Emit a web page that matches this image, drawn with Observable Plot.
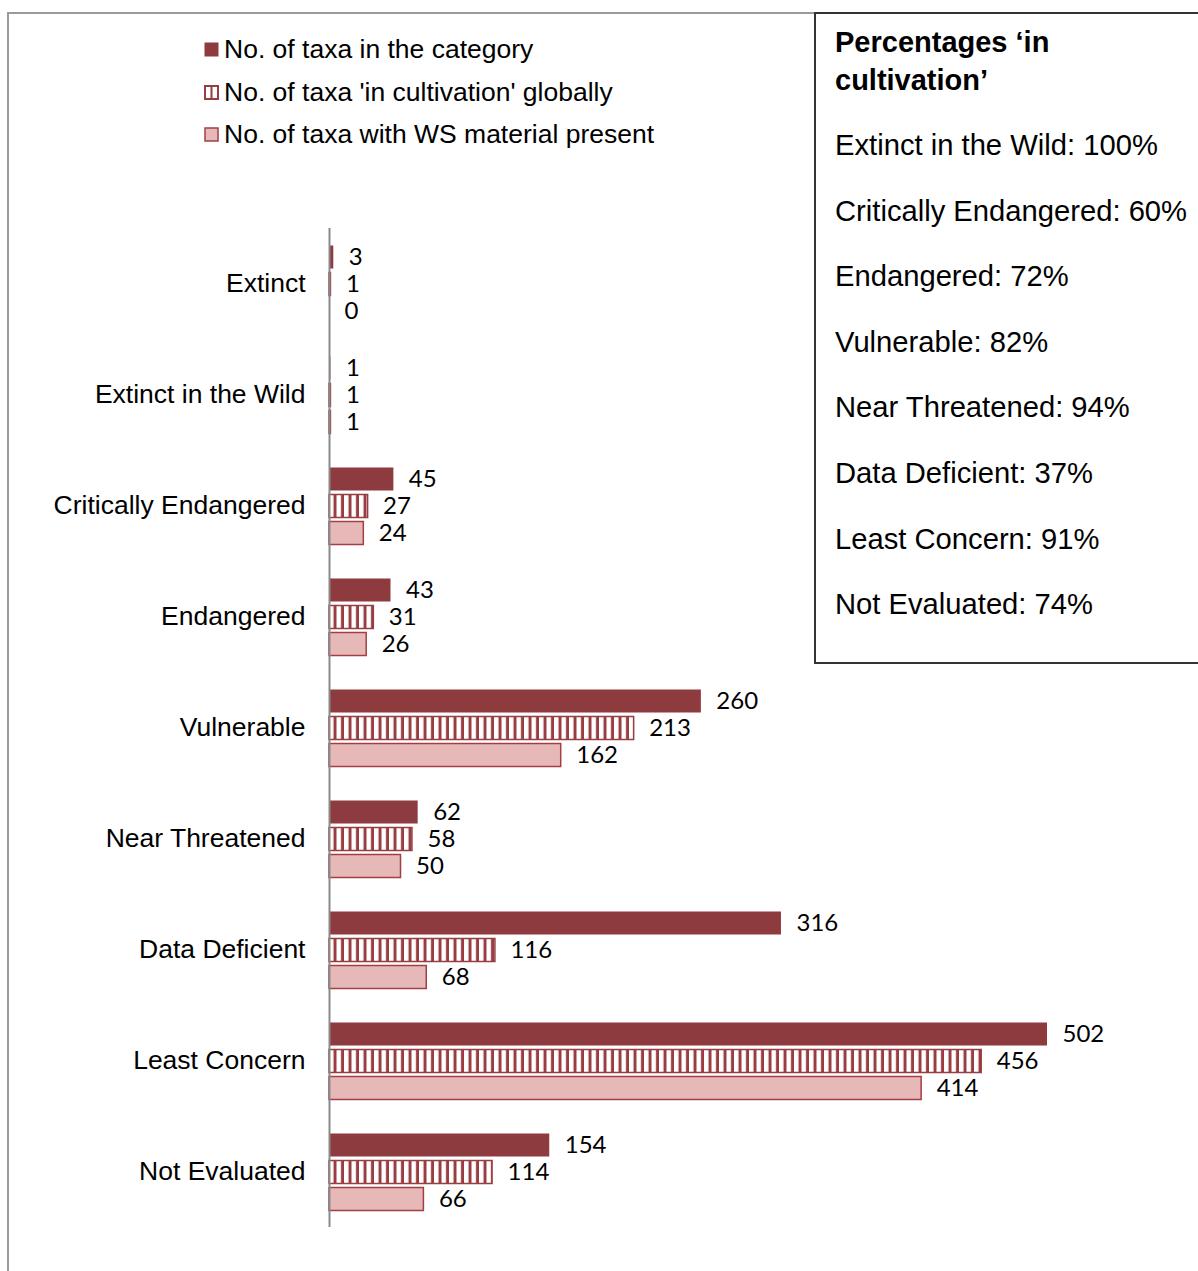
<!DOCTYPE html>
<html>
<head>
<meta charset="utf-8">
<script src="https://cdn.jsdelivr.net/npm/d3@7"></script>
<script src="https://cdn.jsdelivr.net/npm/@observablehq/plot@0.6"></script>
<style>
  html, body { margin: 0; padding: 0; background: #fff; }
  #wrap { position: relative; width: 1198px; height: 1271px; overflow: hidden; font-family: 'Liberation Sans', Arial, sans-serif; color: #000; }
  #frame { position: absolute; left: 7px; top: 12px; width: 900px; height: 1400px; border-top: 2px solid #9a9a9a; border-left: 2px solid #9a9a9a; }
  #legend { position: absolute; left: 0; top: 0; }
  .lg { position: absolute; left: 204px; font-size: 26.5px; line-height: 40px; white-space: nowrap; }
  .lg svg { position: absolute; left: 0; top: 13px; }
  .lg span { position: absolute; left: 20px; top: 0; }
  #box { position: absolute; left: 814px; top: 12px; width: 500px; height: 648px; border: 2px solid #333; background: #fff; }
  .bx { position: absolute; left: 835px; font-size: 29.2px; line-height: 40px; white-space: nowrap; }
  .bx.t { font-weight: bold; font-size: 29px; }
  #chart { position: absolute; left: 0; top: 190px; }
</style>
</head>
<body>
<div id="wrap">
  <div id="frame"></div>
  <div id="legend"></div>
  <div id="chart"></div>
  <div id="box"></div>
</div>
<script>
// ---- data ----
const categories = ["Extinct", "Extinct in the Wild", "Critically Endangered", "Endangered", "Vulnerable", "Near Threatened", "Data Deficient", "Least Concern", "Not Evaluated"];
const seriesNames = ["No. of taxa in the category", "No. of taxa 'in cultivation' globally", "No. of taxa with WS material present"];
const inCategory   = [3, 1, 45, 43, 260, 62, 316, 502, 154];
const inCultivation = [1, 1, 27, 31, 213, 58, 116, 456, 114];
const wsMaterial   = [0, 1, 24, 26, 162, 50, 68, 414, 66];
const boxTitle = ["Percentages \u2018in", "cultivation\u2019"];
const pctCategories = ["Extinct in the Wild", "Critically Endangered", "Endangered", "Vulnerable", "Near Threatened", "Data Deficient", "Least Concern", "Not Evaluated"];
const pctValues = [100, 60, 72, 82, 94, 37, 91, 74];

// ---- styles ----
const DARK = "#8E3B3F";
const HATCH = "#983D41";
const LIGHT = "#E6B9B8";
const LIGHT_STROKE = "#A33F43";

const rows = categories.flatMap((c, i) => [
  {category: c, series: seriesNames[0], value: inCategory[i]},
  {category: c, series: seriesNames[1], value: inCultivation[i]},
  {category: c, series: seriesNames[2], value: wsMaterial[i]}
]);

// legend
const legend = document.getElementById("legend");
const swatches = [
  `<svg width="15" height="15"><rect x="0.5" y="0.5" width="14" height="14" fill="${DARK}"/></svg>`,
  `<svg width="15" height="15"><rect x="1" y="1" width="13" height="13" fill="#fff" stroke="${HATCH}" stroke-width="2"/><rect x="6.5" y="1" width="2" height="13" fill="${HATCH}"/></svg>`,
  `<svg width="15" height="15"><rect x="1" y="1" width="13" height="13" fill="${LIGHT}" stroke="${LIGHT_STROKE}" stroke-width="1.5"/></svg>`
];
const legendCenters = [49, 92, 134];
seriesNames.forEach((s, i) => {
  const d = document.createElement("div");
  d.className = "lg";
  d.style.top = (legendCenters[i] - 20) + "px";
  d.innerHTML = swatches[i] + `<span>${s.replace(/'/g, "&#39;")}</span>`;
  legend.appendChild(d);
});

// box text
const wrap = document.getElementById("wrap");
const titleCenters = [42, 80];
boxTitle.forEach((t, i) => {
  const d = document.createElement("div");
  d.className = "bx t";
  d.style.top = (titleCenters[i] - 20) + "px";
  d.textContent = t;
  wrap.appendChild(d);
});
pctCategories.forEach((c, i) => {
  const d = document.createElement("div");
  d.className = "bx";
  d.style.top = (145 + i * 65.6 - 20) + "px";
  d.textContent = `${c}: ${pctValues[i]}%`;
  wrap.appendChild(d);
});

// chart
const svg = Plot.plot({
  width: 1198,
  height: 1081,
  marginLeft: 329,
  marginRight: 151,
  marginTop: 37.5,
  marginBottom: 43.5,
  style: {fontFamily: "'Liberation Sans', Arial, sans-serif", fontSize: "26.5px", color: "#000", background: "transparent", overflow: "visible"},
  x: {domain: [0, 502], axis: null, nice: false},
  y: {domain: seriesNames, axis: null, paddingInner: 0.16, paddingOuter: 0.6},
  fy: {domain: categories, padding: 0, axis: "left", label: null, tickSize: 0, tickPadding: 24},
  marks: [
    Plot.barX(rows.filter(d => d.series === seriesNames[0]), {x: "value", y: "series", fy: "category", fill: DARK}),
    Plot.barX(rows.filter(d => d.series === seriesNames[1]), {x: "value", y: "series", fy: "category", fill: "url(#hatch)", stroke: HATCH, strokeWidth: 1.5}),
    Plot.barX(rows.filter(d => d.series === seriesNames[2]), {x: "value", y: "series", fy: "category", fill: LIGHT, stroke: LIGHT_STROKE, strokeWidth: 1.5}),
    Plot.ruleX([0], {stroke: "#8a8a8a", strokeWidth: 2}),
    Plot.text(rows, {x: "value", y: "series", fy: "category", text: d => String(d.value), dx: 15, textAnchor: "start", fontFamily: "Lato, 'Open Sans', sans-serif", fontSize: 24, fill: "#000"})
  ]
});

const defs = d3.select(svg).insert("defs", ":first-child");
const pat = defs.append("pattern").attr("id", "hatch").attr("patternUnits", "userSpaceOnUse")
  .attr("x", 329).attr("y", 0).attr("width", 7.5).attr("height", 10);
pat.append("rect").attr("width", 7.5).attr("height", 10).attr("fill", "#fff");
pat.append("rect").attr("x", 4.5).attr("width", 3).attr("height", 10).attr("fill", HATCH);

document.getElementById("chart").appendChild(svg);
</script>
</body>
</html>
